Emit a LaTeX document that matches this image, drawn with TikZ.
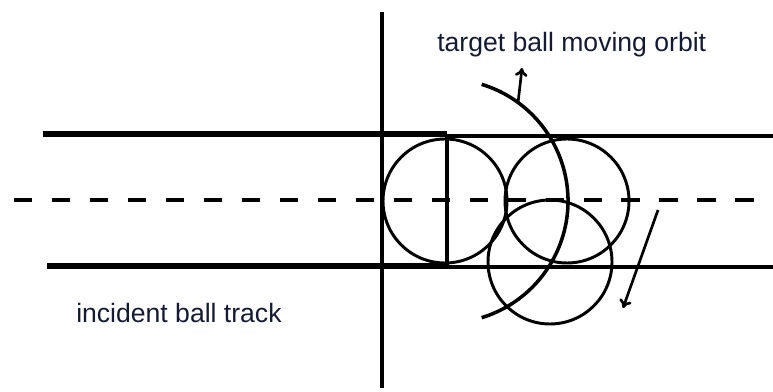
\documentclass[tikz,border=0pt]{standalone}
\usepackage{fontspec}
\setmainfont{Liberation Sans}
\usetikzlibrary{arrows.meta}
\definecolor{labelink}{HTML}{141A33}
\begin{document}
\begin{tikzpicture}[x=0.025cm, y=-0.025cm, line cap=butt,
  label/.style={anchor=base west, inner sep=0pt, text=labelink, font=\fontsize{18.9}{22}\selectfont},
  rail/.style={line width=4.8pt},
  edge/.style={line width=2.3pt},
  ball/.style={line width=2.1pt},
  move/.style={line width=1.9pt, -{To[length=6pt, width=9pt]}}]
\useasboundingbox (0,0) rectangle (773,392);
\node[label] (orbit) at (437,52) {target ball moving orbit};
\node[label] (track) at (76,322) {incident ball track};
\draw[rail] (43,134) -- (447,134);
\draw[rail] (47,266) -- (447,266);
\draw[edge] (447,136) -- (773,136);
\draw[edge] (447,267) -- (773,267);
\draw[edge] (447,134) -- (447,266);
\draw[line width=3pt, dash pattern=on 13 off 14] (14,200) -- (773,200);
\draw[edge] (382,12) -- (382,388);
\draw[ball] (445,201) circle (62);
\draw[ball] (567,201) circle (62);
\draw[ball] (550,262) circle (62);
\draw[line width=2.5pt] (446,201) ++(-73:122) arc (-73:73:122);
\draw[move] (518,103) -- (522,68);
\draw[move] (658,210) -- (623,308);
\end{tikzpicture}
\end{document}
